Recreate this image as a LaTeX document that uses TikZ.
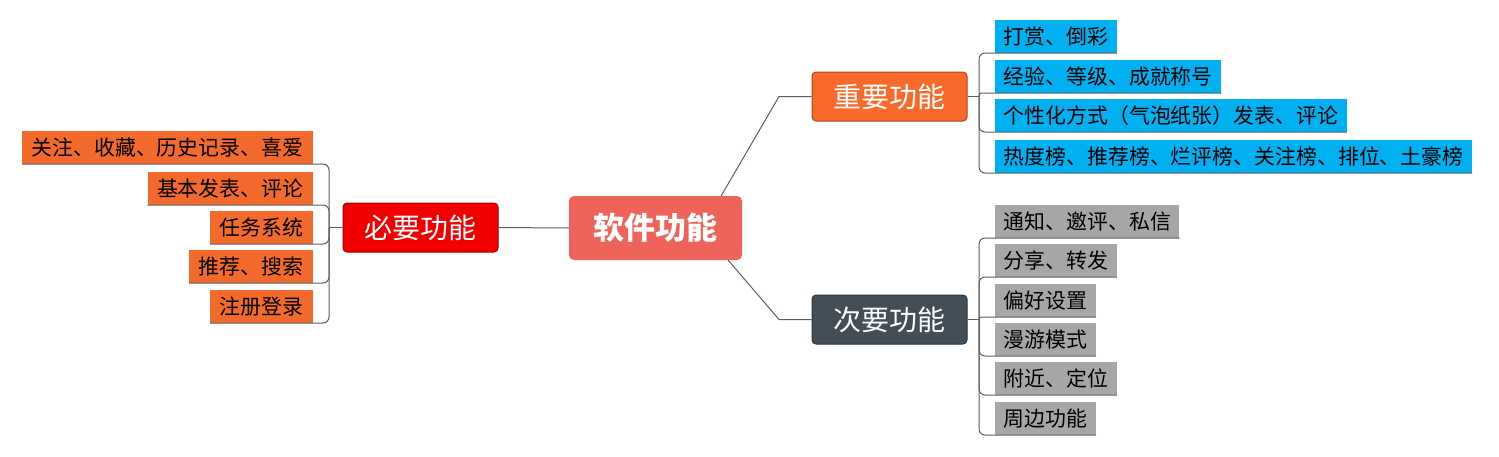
\documentclass[tikz,border=0pt]{standalone}
\usepackage{fontspec}
\newfontfamily\cjk{Noto Sans CJK SC}
\usetikzlibrary{calc}
\definecolor{centerfill}{HTML}{F0635A}
\definecolor{impfill}{HTML}{F96A2A}
\definecolor{impdraw}{HTML}{A8471E}
\definecolor{necfill}{HTML}{F20000}
\definecolor{necdraw}{HTML}{A00000}
\definecolor{secfill}{HTML}{434E57}
\definecolor{secdraw}{HTML}{30383F}
\definecolor{leafor}{HTML}{F46A2C}
\definecolor{leafbl}{HTML}{00B0F0}
\definecolor{leafgr}{HTML}{A6A6A6}
\definecolor{linegray}{HTML}{5A5F63}
\tikzset{
  leaf/.style={inner xsep=8.5pt, inner ysep=0pt, minimum height=33pt,
    font=\cjk\fontsize{20.9}{21}\selectfont, text=black},
  lleaf/.style={leaf, fill=leafor, anchor=south east, inner xsep=9.5pt},
  bleaf/.style={leaf, fill=leafbl, anchor=south west},
  gleaf/.style={leaf, fill=leafgr, anchor=south west},
  mainbox/.style={rounded corners=4pt, minimum width=155pt, minimum height=49pt,
    inner sep=0pt, font=\cjk\fontsize{28}{28}\selectfont, text=white, line width=1pt},
  conn/.style={draw=linegray, line width=1pt},
  br/.style={conn, rounded corners=6pt},
  brs/.style={conn, rounded corners=2.5pt},
}
\begin{document}
\begin{tikzpicture}[x=1pt,y=-1pt]
\useasboundingbox (0,0) rectangle (1499,456);
% central
\node[fill=centerfill, rounded corners=5pt, minimum width=173pt, minimum height=64pt,
  inner sep=0pt, text=white, font=\cjk\bfseries\fontsize{31}{31}\selectfont] (c) at (655.5,228) {软件功能};
\node[mainbox, fill=impfill, draw=impdraw] (imp) at (889.5,96.5) {重要功能};
\node[mainbox, fill=secfill, draw=secdraw] (sec) at (889.5,319.5) {次要功能};
\node[mainbox, fill=necfill, draw=necdraw] (nec) at (420.5,227.5) {必要功能};
% leaves left
\node[lleaf] (l1) at (313,164) {关注、收藏、历史记录、喜爱};
\node[lleaf] (l2) at (313,205) {基本发表、评论};
\node[lleaf] (l3) at (313,244) {任务系统};
\node[lleaf] (l4) at (313,283) {推荐、搜索};
\node[lleaf] (l5) at (313,323) {注册登录};
% leaves top right
\node[bleaf] (t1) at (995,53) {打赏、倒彩};
\node[bleaf] (t2) at (995,93) {经验、等级、成就称号};
\node[bleaf] (t3) at (995,132) {个性化方式（气泡纸张）发表、评论};
\node[bleaf] (t4) at (995,173) {热度榜、推荐榜、烂评榜、关注榜、排位、土豪榜};
% leaves bottom right
\node[gleaf] (s1) at (995,238) {通知、邀评、私信};
\node[gleaf] (s2) at (995,277) {分享、转发};
\node[gleaf] (s3) at (995,317) {偏好设置};
\node[gleaf] (s4) at (995,356) {漫游模式};
\node[gleaf] (s5) at (995,395) {附近、定位};
\node[gleaf] (s6) at (995,435) {周边功能};
% junctions
\coordinate (k1) at (779,96.5);
\coordinate (k2) at (779,319.5);
\coordinate (jl) at (329,227.5);
\coordinate (jt) at (979,96.5);
\coordinate (js) at (979,319.5);
% center connectors
\draw[conn] ($(c.north east)+(-21,0)$) -- (k1) -- (imp.west);
\draw[conn] ($(c.south east)+(-14,0)$) -- (k2) -- (sec.west);
\draw[conn] (c.west) -- (nec.east);
% left bracket
\draw[conn] (nec.west) -- (jl);
\foreach \n in {l1,l2,l3,l4,l5} \draw[br] (jl) |- (\n.south west);
% top right bracket
\draw[conn] (imp.east) -- (jt);
\foreach \n in {t1,t3,t4} \draw[br] (jt) |- (\n.south east);
\draw[brs] (jt) |- (t2.south east);
% bottom right bracket
\draw[conn] (sec.east) -- (js);
\foreach \n in {s1,s2,s4,s5,s6} \draw[br] (js) |- (\n.south east);
\draw[brs] (js) |- (s3.south east);
\end{tikzpicture}
\end{document}
